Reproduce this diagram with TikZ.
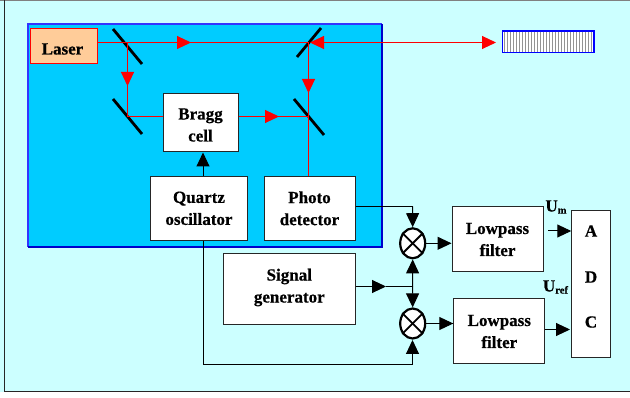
\documentclass[tikz,border=0pt]{standalone}
\usepackage{fontspec}
\setmainfont[BoldFeatures={FakeBold=0.6}]{Liberation Serif}
\usetikzlibrary{arrows.meta,shapes.geometric}
\definecolor{pagecyan}{HTML}{CCFFFF}
\definecolor{panelblue}{HTML}{00CCFF}
\definecolor{laserfill}{HTML}{FFCC99}
\newcommand{\subtxt}[1]{{\fontsize{10.5}{10.5}\selectfont\raisebox{-2pt}{#1}}}
\tikzset{
	block/.style={draw=black!85,line width=1pt,fill=white,inner sep=0pt,align=center,font=\fontsize{17}{22}\selectfont\bfseries},
	mirror/.style={line width=2.8pt},
	beam/.style={red,line width=1pt},
	sigline/.style={black,line width=1pt},
	tip/.style={-{Triangle[length=14pt,width=13pt]}},
	mixer/.style={ellipse,draw=black,line width=2.2pt,fill=white,minimum width=25pt,minimum height=30pt,inner sep=0pt},
	lab/.style={inner sep=0pt,align=center,font=\fontsize{17}{22}\selectfont\bfseries}
}
\begin{document}
\begin{tikzpicture}[x=1pt,y=-1pt]
	\useasboundingbox (0,0) rectangle (630,398);
	\fill[white] (0,0) rectangle (630,398);
	\fill[pagecyan] (0,0) rectangle (630,392);
	\draw[gray,line width=1pt] (0,0.5) -- (630,0.5);
	\draw[black!85,line width=1pt] (4.5,0) -- (4.5,391.5) -- (630,391.5);

	% optical bench
	\fill[panelblue] (27.5,24.5) rectangle (382,247);
	\draw[blue!80,line width=2pt] (27.5,247) -- (27.5,24.5) -- (382,24.5);
	\draw[blue!80!black,line width=2pt] (27.5,247) -- (382,247) -- (382,24.5);

	\node[block,draw=red,fill=laserfill,minimum width=67pt,minimum height=35pt] (laser) at (63.5,46.5) {};
	\node[lab] (lasertxt) at (62.5,49) {Laser};
	\node[block,minimum width=75pt,minimum height=58pt] (bragg) at (200.5,123) {};
	\node[lab] (braggtxt) at (200.5,125) {Bragg\\cell};
	\node[block,minimum width=97pt,minimum height=64.5pt] (quartz) at (199,208.3) {Quartz\\oscillator};
	\node[block,minimum width=91pt,minimum height=64.5pt] (photo) at (309.5,208.3) {Photo\\detector};
	\node[block,minimum width=131.5pt,minimum height=71pt] (signal) at (289.3,289.5) {};
	\node[lab] (signaltxt) at (289.3,287.5) {Signal\\generator};
	\node[block,minimum width=91pt,minimum height=65pt] (lp1) at (497.5,239.5) {Lowpass\\filter};
	\node[block,minimum width=91pt,minimum height=65pt] (lp2) at (499.3,331.5) {Lowpass\\filter};
	\node[block,minimum width=38.5pt,minimum height=147pt] (adc) at (591,284.5) {};
	\node[lab] (adca) at (591,231) {A};
	\node[lab] (adcd) at (591,277) {D};
	\node[lab] (adcc) at (591,322) {C};
	\node[mixer] (mix1) at (412.7,243.3) {};
	\node[mixer] (mix2) at (412.7,323.5) {};
	\foreach \m in {mix1,mix2} {
		\draw[line width=1.8pt] (\m.45) -- (\m.225);
		\draw[line width=1.8pt] (\m.135) -- (\m.315);
	}

	% grating
	\node[draw=blue,line width=1.2pt,fill=white,minimum width=91.5pt,minimum height=21.5pt,inner sep=0pt] (grating) at (548.3,41.8) {};
	\foreach \x in {504.5,507.5,...,592} {
		\draw[gray!85,line width=1.7pt] (\x,32) -- (\x,51.6);
	}

	% beam points
	\coordinate (m1) at (127.5,42.5);
	\coordinate (m2) at (127.5,116.5);
	\coordinate (m3) at (308.5,42.5);
	\coordinate (m4) at (308.5,116.5);
	\coordinate (end) at (496,42.5);
	\coordinate (junc) at (412.5,286.5);
	\coordinate (corner) at (203,364.5);
	\coordinate (bend) at (412.5,206.5);

	\draw[mirror] (113,29) -- (142,64);
	\draw[mirror] (113,99) -- (142,134);
	\draw[mirror] (297,57) -- (321,28);
	\draw[mirror] (294,99) -- (324,135);

	\draw[beam] (laser.east |- m1) -- (m3);
	\draw[beam,tip] (m1) -- (191,42.5);
	\draw[beam] (m1) -- (m2) -- (bragg.west |- m2);
	\draw[beam,tip] (m1) -- (127.5,86);
	\draw[beam] (bragg.east |- m2) -- (m4);
	\draw[beam,tip] (bragg.east |- m2) -- (279,116.5);
	\draw[beam] (m3) -- (photo.north -| m3);
	\draw[beam,tip] (m3) -- (308.5,93);
	\draw[beam,{Triangle[length=14pt,width=13pt]}-{Triangle[length=14pt,width=13pt]}] (310,42.5) -- (end);

	% electronics
	\draw[sigline,tip] (203,176) -- (203,152.5);
	\draw[sigline] (203,240.6) -- (corner);
	\draw[sigline,tip] (corner) -- (412.5,364.5) -- (412.5,340);
	\draw[sigline] (photo.east |- bend) -- (bend);
	\draw[sigline,tip] (bend) -- (mix1.north);
	\draw[sigline,tip] (signal.east |- junc) -- (386,286.5);
	\draw[sigline] (386,286.5) -- (junc);
	\draw[sigline,tip] (junc) -- (mix1.south);
	\draw[sigline,tip] (junc) -- (mix2.north);
	\draw[sigline,tip] (mix1.east) -- (lp1.west |- mix1);
	\draw[sigline,tip] (mix2.east) -- (lp2.west |- mix2);
	\coordinate (lp2out) at (570,329.5);
	\draw[sigline,tip] (lp2.east |- lp2out) -- (lp2out);
	\coordinate (umstart) at (548,231);
	\draw[sigline,tip] (umstart) -- (adc.west |- umstart);

	\node[lab] (um) at (556,207) {U\subtxt{m}};
	\node[lab] (uref) at (555.5,287) {U\subtxt{ref}};
\end{tikzpicture}
\end{document}
